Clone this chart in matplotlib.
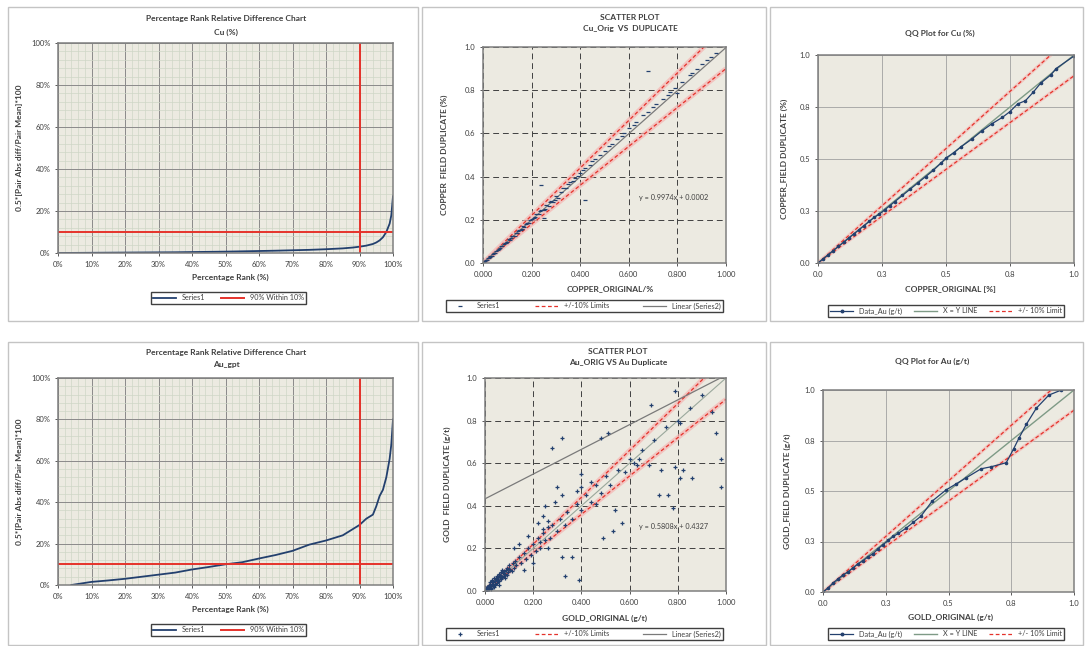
import matplotlib
matplotlib.use('Agg')
import numpy as np
import matplotlib.pyplot as plt
from matplotlib.patches import Rectangle
from matplotlib.lines import Line2D
from matplotlib.ticker import MultipleLocator, FixedLocator

plt.rcParams['font.family'] = ['Lato', 'DejaVu Sans']

# ---- data ----
rank_cu = [0, 5, 10, 15, 20, 25, 30, 35, 40, 45, 50, 55, 60, 65, 70, 75, 80, 85, 88, 90,
           92, 94, 95, 96, 97, 98, 99, 99.5, 100]
rd_cu = [0, 0.05, 0.1, 0.15, 0.2, 0.25, 0.3, 0.35, 0.45, 0.55, 0.65, 0.8, 0.95, 1.1, 1.3,
         1.5, 1.8, 2.2, 2.6, 3.0, 3.5, 4.3, 5.0, 6.0, 7.5, 10.0, 14.0, 18.0, 27.0]

rank_au = [4, 6, 10, 15, 20, 25, 30, 35, 40, 45, 50, 55, 60, 65, 70, 75, 80, 85, 90,
           92, 94, 95, 96, 97, 98, 99, 99.5, 100]
rd_au = [0, 0.5, 1.5, 2.2, 3.0, 4.0, 5.0, 6.0, 7.5, 8.7, 10.0, 11.0, 12.8, 14.5, 16.5,
         19.5, 21.5, 24.0, 29.0, 32.0, 34.0, 38.0, 43.0, 46.0, 52.0, 61.0, 68.0, 80.0]

cu_orig = [0.005, 0.01, 0.015, 0.02, 0.025, 0.03, 0.035, 0.04, 0.05, 0.055, 0.06, 0.07, 0.075,
           0.08, 0.09, 0.10, 0.105, 0.11, 0.12, 0.13, 0.135, 0.14, 0.15, 0.16, 0.165, 0.17,
           0.18, 0.19, 0.20, 0.21, 0.22, 0.23, 0.24, 0.25, 0.26, 0.27, 0.28, 0.29, 0.30, 0.31,
           0.32, 0.34, 0.35, 0.37, 0.38, 0.40, 0.42, 0.44, 0.46, 0.48, 0.50, 0.53, 0.55, 0.58,
           0.60, 0.63, 0.66, 0.68, 0.71, 0.74, 0.77, 0.79, 0.80, 0.82, 0.85, 0.88, 0.90, 0.92,
           0.94, 0.24, 0.42, 0.68, 0.25,
           0.012, 0.028, 0.045, 0.065, 0.085, 0.095, 0.115, 0.125, 0.145, 0.155, 0.175, 0.185,
           0.195, 0.215, 0.235, 0.255, 0.275, 0.295, 0.33, 0.36, 0.39, 0.41, 0.45, 0.52, 0.57,
           0.62, 0.70, 0.76, 0.86, 0.96]
cu_dup = [0.006, 0.011, 0.014, 0.021, 0.024, 0.032, 0.034, 0.042, 0.048, 0.057, 0.062, 0.068,
          0.078, 0.079, 0.093, 0.098, 0.11, 0.107, 0.124, 0.127, 0.14, 0.138, 0.155, 0.157, 0.17,
          0.166, 0.186, 0.185, 0.205, 0.207, 0.226, 0.225, 0.247, 0.244, 0.268, 0.262, 0.288,
          0.283, 0.31, 0.302, 0.33, 0.345, 0.365, 0.38, 0.395, 0.415, 0.44, 0.455, 0.48, 0.5,
          0.52, 0.55, 0.575, 0.6, 0.625, 0.655, 0.685, 0.7, 0.735, 0.76, 0.79, 0.81, 0.785, 0.84,
          0.87, 0.9, 0.92, 0.94, 0.955, 0.36, 0.29, 0.89, 0.21,
          0.013, 0.027, 0.047, 0.063, 0.088, 0.094, 0.118, 0.123, 0.149, 0.153, 0.179, 0.183,
          0.2, 0.213, 0.24, 0.252, 0.282, 0.291, 0.345, 0.375, 0.405, 0.43, 0.47, 0.54, 0.59,
          0.64, 0.72, 0.78, 0.88, 0.97]

au_orig = [0.005, 0.008, 0.01, 0.012, 0.015, 0.018, 0.02, 0.022, 0.025, 0.028, 0.03, 0.032,
           0.035, 0.038, 0.04, 0.042, 0.045, 0.048, 0.05, 0.052, 0.055, 0.058, 0.06, 0.062,
           0.065, 0.068, 0.07, 0.072, 0.075, 0.078, 0.08, 0.085, 0.09, 0.095, 0.10, 0.105,
           0.11, 0.115, 0.12, 0.125,
           0.003, 0.006, 0.009, 0.013, 0.016, 0.019, 0.024, 0.027, 0.033, 0.036, 0.043, 0.047,
           0.053, 0.057, 0.063, 0.067, 0.083, 0.088, 0.093, 0.098,
           0.13, 0.14, 0.15, 0.16, 0.17, 0.18, 0.19, 0.20, 0.21, 0.22, 0.23, 0.24, 0.25, 0.26,
           0.27, 0.28, 0.30, 0.31, 0.33, 0.34, 0.36, 0.38, 0.40, 0.42, 0.44, 0.46, 0.48, 0.50,
           0.52, 0.55, 0.58, 0.60, 0.62, 0.65, 0.70, 0.75, 0.80, 0.85, 0.90,
           0.12, 0.14, 0.16, 0.18, 0.20, 0.22, 0.24, 0.25, 0.26,
           0.32, 0.28, 0.48, 0.51, 0.69, 0.79, 0.81, 0.96, 0.98, 0.98, 0.94, 0.76, 0.81, 0.79,
           0.72, 0.46, 0.44, 0.40, 0.40, 0.38, 0.32, 0.30, 0.29, 0.24, 0.23, 0.26, 0.32, 0.36,
           0.49, 0.53, 0.57, 0.54, 0.63, 0.64, 0.68, 0.73, 0.82, 0.86, 0.78, 0.39, 0.33]
au_dup = [0.01, 0.004, 0.02, 0.008, 0.03, 0.012, 0.025, 0.04, 0.015, 0.035, 0.05, 0.022,
          0.03, 0.06, 0.045, 0.028, 0.055, 0.07, 0.038, 0.065, 0.05, 0.08, 0.045, 0.075,
          0.09, 0.06, 0.068, 0.1, 0.085, 0.07, 0.095, 0.078, 0.11, 0.088, 0.12, 0.1, 0.092,
          0.13, 0.11, 0.14,
          0.006, 0.015, 0.005, 0.018, 0.009, 0.028, 0.01, 0.045, 0.04, 0.018, 0.035, 0.06,
          0.045, 0.03, 0.07, 0.055, 0.06, 0.1, 0.075, 0.105,
          0.12, 0.16, 0.13, 0.18, 0.15, 0.2, 0.17, 0.22, 0.19, 0.25, 0.2, 0.27, 0.24, 0.3,
          0.25, 0.31, 0.28, 0.34, 0.31, 0.37, 0.34, 0.41, 0.38, 0.45, 0.42, 0.5, 0.46, 0.54,
          0.5, 0.57, 0.56, 0.62, 0.6, 0.66, 0.71, 0.77, 0.8, 0.86, 0.92,
          0.2, 0.22, 0.1, 0.26, 0.13, 0.32, 0.35, 0.4, 0.33,
          0.72, 0.67, 0.72, 0.74, 0.875, 0.94, 0.79, 0.74, 0.62, 0.49, 0.84, 0.45, 0.53, 0.58,
          0.45, 0.41, 0.51, 0.55, 0.49, 0.47, 0.45, 0.49, 0.42, 0.29, 0.23, 0.20, 0.16, 0.16,
          0.25, 0.28, 0.32, 0.38, 0.59, 0.62, 0.59, 0.57, 0.57, 0.53, 0.39, 0.05, 0.07]

qq_cu_orig = [0.0, 0.02, 0.04, 0.06, 0.08, 0.10, 0.12, 0.14, 0.16, 0.18, 0.20, 0.22, 0.24,
              0.26, 0.28, 0.30, 0.33, 0.36, 0.39, 0.42, 0.45, 0.48, 0.50, 0.53, 0.56, 0.60,
              0.64, 0.68, 0.72, 0.75, 0.78, 0.81, 0.84, 0.87, 0.91, 0.93, 1.0]
qq_cu_dup = [0.0, 0.02, 0.04, 0.06, 0.08, 0.10, 0.12, 0.14, 0.16, 0.18, 0.20, 0.22, 0.235,
             0.255, 0.275, 0.295, 0.325, 0.355, 0.385, 0.415, 0.445, 0.48, 0.505, 0.53, 0.56,
             0.595, 0.635, 0.67, 0.70, 0.728, 0.765, 0.78, 0.82, 0.865, 0.905, 0.935, 0.995]

qq_au_orig = [0.0, 0.02, 0.04, 0.06, 0.08, 0.10, 0.12, 0.14, 0.16, 0.18, 0.20, 0.22, 0.24,
              0.26, 0.28, 0.30, 0.33, 0.36, 0.39, 0.435, 0.49, 0.53, 0.57, 0.63, 0.67, 0.73,
              0.76, 0.78, 0.81, 0.85, 0.90, 0.95]
qq_au_dup = [0.0, 0.02, 0.045, 0.065, 0.085, 0.10, 0.12, 0.14, 0.155, 0.175, 0.19, 0.215,
             0.235, 0.255, 0.275, 0.29, 0.315, 0.345, 0.375, 0.45, 0.505, 0.535, 0.565, 0.61,
             0.62, 0.64, 0.71, 0.76, 0.83, 0.91, 0.975, 1.0]

fit_cu = (0.9974, 0.0002)
fit_au = (0.5808, 0.4327)

# ---- styling ----
W, H = 1085, 646
BG = '#ECEAE1'
NAVY = '#23406E'
RED = '#E5322B'
PINK = '#F5B5B2'
TXT = '#3F3F3F'
EDGE = '#7F7F7F'

fig = plt.figure(figsize=(W / 100, H / 100), dpi=100)


def box(x0, y0, x1, y1):
    return [x0 / W, 1 - y1 / H, (x1 - x0) / W, (y1 - y0) / H]


def ftext(x, y, s, **kw):
    kw.setdefault('color', TXT)
    kw.setdefault('ha', 'center')
    kw.setdefault('va', 'center')
    fig.text(x / W, 1 - y / H, s, **kw)


def legend(handles, labels, x0, x1, yc, ncol):
    fig.legend(handles, labels, loc='center', ncol=ncol, mode='expand',
               bbox_to_anchor=(x0 / W, 1 - (yc + 8) / H, (x1 - x0) / W, 16 / H),
               fontsize=5.2, frameon=True, fancybox=False, edgecolor='#404040',
               handlelength=3.2, borderpad=0.35, labelcolor=TXT, framealpha=1)


# panel frames
for x0, y0, x1, y1 in [(8, 7, 418, 321), (422, 7, 766, 321), (770, 7, 1083, 321),
                       (8, 342, 418, 645), (422, 342, 766, 645), (770, 342, 1083, 645)]:
    fig.patches.append(Rectangle((x0 / W, 1 - y1 / H), (x1 - x0) / W, (y1 - y0) / H,
                                 transform=fig.transFigure, fill=False, ec='#C4C4C4', lw=1))


def style(ax):
    ax.set_facecolor(BG)
    for s in ax.spines.values():
        s.set_color(EDGE)
        s.set_linewidth(1.1)
    ax.tick_params(labelsize=5.5, colors=TXT, length=2.5, width=0.6, pad=3)
    ax.tick_params(which='minor', length=0)
    ax.set_axisbelow(True)


def rank_chart(rect, rank, rd, sub, ty):
    ax = fig.add_axes(box(*rect))
    style(ax)
    ax.plot(rank, rd, color=NAVY, lw=1.3)
    ax.axhline(10, color=RED, lw=1.4)
    ax.axvline(90, color=RED, lw=1.4)
    ax.set_xlim(0, 100)
    ax.set_ylim(0, 100)
    ax.xaxis.set_major_locator(MultipleLocator(10))
    ax.xaxis.set_minor_locator(MultipleLocator(2))
    ax.yaxis.set_major_locator(MultipleLocator(20))
    ax.yaxis.set_minor_locator(MultipleLocator(4))
    ax.grid(which='major', color='#8A8A8A', lw=0.7)
    ax.grid(which='minor', color='#CFD6C6', lw=0.5)
    ax.set_xticklabels([f'{int(v)}%' for v in ax.get_xticks()])
    ax.set_yticklabels([f'{int(v)}%' for v in ax.get_yticks()])
    x0, y0, x1, y1 = rect
    ftext(226, ty, 'Percentage Rank Relative Difference Chart', fontsize=6, fontweight='bold')
    ftext(226, ty + 13, sub, fontsize=6, fontweight='bold')
    ftext(230, y1 + 24, 'Percentage Rank (%)', fontsize=6, fontweight='bold')
    ftext(20, (y0 + y1) / 2, '0.5*[Pair Abs diff/Pair Mean]*100', fontsize=6,
          fontweight='bold', rotation=90)
    legend([Line2D([], [], color=NAVY, lw=1.3), Line2D([], [], color=RED, lw=1.4)],
           ['Series1', '90% Within 10%'], 147, 310, y1 + 45, 2)
    return ax


rank_chart((58, 43, 393, 253), rank_cu, rd_cu, 'Cu (%)', 19)
rank_chart((58, 378, 393, 585), rank_au, rd_au, 'Au_gpt', 352)


def scatter_chart(rect, xs, ys, fit, marker, title2, xlabel, ylabel, eq, ty, tx, xly, yl_x,
                  leg_y, show_xy):
    ax = fig.add_axes(box(*rect))
    style(ax)
    lx = np.array([0.0, 1.0])
    for k in (1.1, 0.9):
        ax.plot(lx, k * lx, color=PINK, lw=3.5, alpha=0.7, solid_capstyle='butt')
        ax.plot(lx, k * lx, color=RED, lw=0.9, ls=(0, (3, 2)))
    if show_xy:
        ax.plot(lx, lx, color='#9AA89C', lw=0.8)
    ax.plot(lx, fit[0] * lx + fit[1], color='#7A7A7A', lw=0.9)
    ax.plot(xs, ys, ls='none', marker=marker, ms=3.2, mew=0.9, color=NAVY)
    ax.set_xlim(0, 1)
    ax.set_ylim(0, 1)
    ax.xaxis.set_major_locator(MultipleLocator(0.2))
    ax.yaxis.set_major_locator(MultipleLocator(0.2))
    ax.grid(which='major', color='#404040', lw=0.7, ls=(0, (6, 4)))
    ax.set_xticklabels([f'{v:.3f}' for v in ax.get_xticks()])
    ax.set_yticklabels([f'{v:.1f}' for v in ax.get_yticks()])
    ax.text(0.64, 0.29, eq, fontsize=5.2, color=TXT, transform=ax.transData)
    x0, y0, x1, y1 = rect
    ftext(tx, ty, 'SCATTER PLOT', fontsize=6, fontweight='bold')
    ftext(tx, ty + 10, title2, fontsize=6, fontweight='bold')
    ftext(xly[0], xly[1], xlabel, fontsize=6, fontweight='bold')
    ftext(yl_x, (y0 + y1) / 2, ylabel, fontsize=6, fontweight='bold', rotation=90)
    legend([Line2D([], [], ls='none', marker=marker, ms=3, mew=0.9, color=NAVY),
            Line2D([], [], color=RED, lw=0.9, ls=(0, (3, 2))),
            Line2D([], [], color='#7A7A7A', lw=0.9)],
           ['Series1', '+/-10% Limits', 'Linear (Series2)'], 442, 727, leg_y, 3)
    return ax


scatter_chart((483, 47, 726, 263), cu_orig, cu_dup, fit_cu, '_', 'Cu_Orig  VS  DUPLICATE',
              'COPPER_ORIGINAL/%', 'COPPER  FIELD DUPLICATE (%)', 'y = 0.9974x + 0.0002',
              18, 630, (610, 289), 444, 306, False)
scatter_chart((485, 378, 726, 591), au_orig, au_dup, fit_au, '+', 'Au_ORIG VS Au Duplicate',
              'GOLD_ORIGINAL (g/t)', 'GOLD  FIELD DUPLICATE (g/t)', 'y = 0.5808x + 0.4327',
              352, 618, (605, 618), 447, 634, True)


def qq_chart(rect, xs, ys, title, xlabel, ylabel, ty, tx, xly, yl_x, leg_y):
    ax = fig.add_axes(box(*rect))
    style(ax)
    lx = np.array([0.0, 1.0])
    for k in (1.1, 0.9):
        ax.plot(lx, k * lx, color=PINK, lw=2.5, alpha=0.6, solid_capstyle='butt')
        ax.plot(lx, k * lx, color=RED, lw=0.9, ls=(0, (3, 2)))
    ax.plot(lx, lx, color='#7E9A86', lw=1.0)
    ax.plot(xs, ys, color=NAVY, lw=0.9, marker='o', ms=1.6)
    ax.set_xlim(0, 1)
    ax.set_ylim(0, 1)
    ticks = [0, 0.25, 0.5, 0.75, 1.0]
    labs = ['0.0', '0.3', '0.5', '0.8', '1.0']
    ax.xaxis.set_major_locator(FixedLocator(ticks))
    ax.yaxis.set_major_locator(FixedLocator(ticks))
    ax.set_xticklabels(labs)
    ax.set_yticklabels(labs)
    ax.grid(which='major', color='#A0A0A0', lw=0.6)
    x0, y0, x1, y1 = rect
    ftext(tx, ty, title, fontsize=6, fontweight='bold')
    ftext(xly[0], xly[1], xlabel, fontsize=6, fontweight='bold')
    ftext(yl_x, (y0 + y1) / 2, ylabel, fontsize=6, fontweight='bold', rotation=90)
    legend([Line2D([], [], color=NAVY, lw=0.9, marker='o', ms=1.8),
            Line2D([], [], color='#7E9A86', lw=1.0),
            Line2D([], [], color=RED, lw=0.9, ls=(0, (3, 2)))],
           ['Data_Au (g/t)', 'X = Y LINE', '+/- 10% Limit'], 824, 1068, leg_y, 3)
    return ax


qq_chart((818, 55, 1074, 263), qq_cu_orig, qq_cu_dup, 'QQ Plot for Cu (%)',
         'COPPER_ORIGINAL [%]', 'COPPER_FIELD DUPLICATE (%)', 33, 940, (950, 289), 784, 311)
qq_chart((823, 390, 1074, 592), qq_au_orig, qq_au_dup, 'QQ Plot for Au (g/t)',
         'GOLD_ORIGINAL (g/t)', 'GOLD_FIELD DUPLICATE (g/t)', 361, 932, (950, 617), 787, 634)

fig.savefig('out.png', dpi=100, facecolor='white')
